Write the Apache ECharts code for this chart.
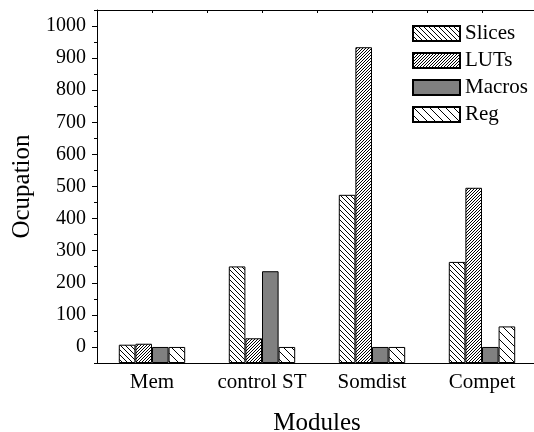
<!DOCTYPE html>
<html>
<head>
<meta charset="utf-8">
<script src="https://cdn.jsdelivr.net/npm/echarts@6/dist/echarts.min.js"></script>
<style>html,body{margin:0;padding:0;background:#fff;}#chart{width:534px;height:432px;}</style>
</head>
<body>
<div id="chart"></div>
<script>
const categories = ['Mem', 'control ST', 'Somdist', 'Compet'];
const slices = [7, 251, 474, 265];
const luts = [10, 27, 934, 496];
const macros = [0, 236, 0, 0];
const reg = [0, 0, 0, 64];
const yTickLabels = [0, 100, 200, 300, 400, 500, 600, 700, 800, 900, 1000];
const yMinorTicks = [-50, 50, 150, 250, 350, 450, 550, 650, 750, 850, 950, 1050];

function hatch(s, dir, lw) {
  const c = document.createElement('canvas');
  c.width = s; c.height = s;
  const ctx = c.getContext('2d');
  ctx.fillStyle = '#fff';
  ctx.fillRect(0, 0, s, s);
  ctx.strokeStyle = '#000';
  ctx.lineWidth = lw;
  ctx.beginPath();
  for (let k = -1; k <= 1; k++) {
    if (dir === 'back') { ctx.moveTo(k * s, 0); ctx.lineTo(k * s + s, s); }
    else { ctx.moveTo(k * s, s); ctx.lineTo(k * s + s, 0); }
  }
  ctx.stroke();
  return { image: c, repeat: 'repeat' };
}

const font = 'Liberation Serif';
const chart = echarts.init(document.getElementById('chart'), null, { renderer: 'canvas' });

function bar(name, data, color) {
  return {
    name: name, type: 'bar', data: data, xAxisIndex: 0, yAxisIndex: 0,
    barWidth: 16.6, barGap: '0%',
    itemStyle: { color: color, borderColor: '#000', borderWidth: 1 },
    emphasis: { disabled: true }
  };
}

chart.setOption({
  animation: false,
  backgroundColor: '#fff',
  textStyle: { fontFamily: font, color: '#000' },
  grid: { left: 97, top: 10, width: 440, height: 353, containLabel: false, outerBoundsMode: 'none' },
  legend: {
    orient: 'vertical', left: 407, top: 18, icon: 'rect',
    itemWidth: 47, itemHeight: 15, itemGap: 6,
    textStyle: { fontFamily: font, fontSize: 21, color: '#000' },
    data: ['Slices', 'LUTs', 'Macros', 'Reg']
  },
  xAxis: [
    {
      type: 'category', data: categories, position: 'bottom',
      name: 'Modules', nameLocation: 'middle', nameGap: 48,
      nameTextStyle: { fontFamily: font, fontSize: 25, color: '#000' },
      axisLine: { onZero: false, lineStyle: { color: '#000', width: 1 } },
      axisTick: { alignWithLabel: true, length: 6, lineStyle: { color: '#000' } },
      axisLabel: { fontFamily: font, fontSize: 21, color: '#000', margin: 9, interval: 0 },
      splitLine: { show: false }
    },
    {
      type: 'category', data: categories, position: 'bottom',
      axisLine: { show: false, onZero: false },
      axisTick: { alignWithLabel: false, length: 3, lineStyle: { color: '#000' } },
      axisLabel: { show: false }, splitLine: { show: false }
    },
    {
      type: 'value', position: 'top', min: 0, max: 4, interval: 0.5,
      axisLine: { show: true, onZero: false, lineStyle: { color: '#000', width: 1 } },
      axisTick: { show: true, inside: true, length: 3, lineStyle: { color: '#000' } },
      axisLabel: { show: false }, splitLine: { show: false }
    }
  ],
  yAxis: [
    {
      type: 'value', min: -50, max: 1050, startValue: -50,
      name: 'Ocupation', nameLocation: 'middle', nameGap: 62, nameRotate: 90,
      nameTextStyle: { fontFamily: font, fontSize: 25, color: '#000' },
      axisLine: { show: true, onZero: false, lineStyle: { color: '#000', width: 1 } },
      axisTick: { show: true, length: 5, customValues: yTickLabels, lineStyle: { color: '#000' } },
      axisLabel: { fontFamily: font, fontSize: 20, color: '#000', margin: 11, customValues: yTickLabels,
        formatter: function (v) { return String(v); } },
      splitLine: { show: false }
    },
    {
      type: 'value', min: -50, max: 1050, position: 'left',
      axisLine: { show: false, onZero: false },
      axisTick: { show: true, length: 3, customValues: yMinorTicks, lineStyle: { color: '#000' } },
      axisLabel: { show: false, customValues: yMinorTicks },
      splitLine: { show: false }
    }
  ],
  series: [
    bar('Slices', slices, hatch(5, 'back', 1)),
    bar('LUTs', luts, hatch(3, 'fwd', 1)),
    bar('Macros', macros, '#808080'),
    bar('Reg', reg, hatch(8, 'back', 1))
  ]
});
</script>
</body>
</html>
